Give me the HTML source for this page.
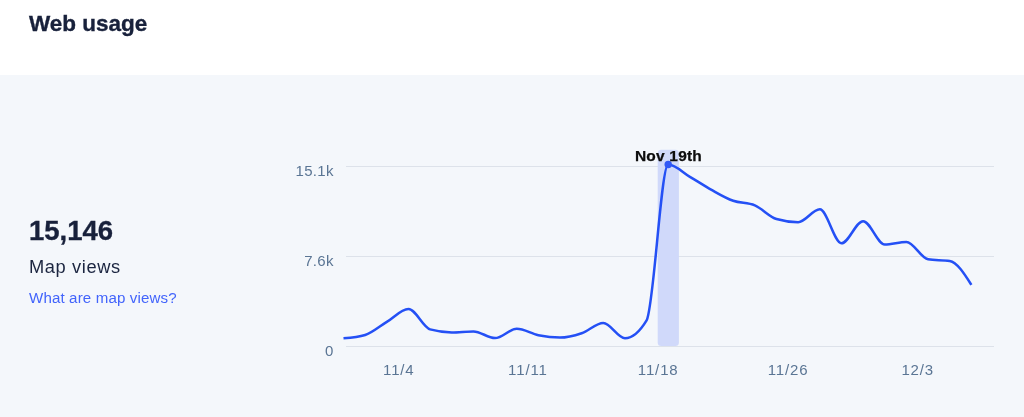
<!DOCTYPE html>
<html lang="en">
<head>
<meta charset="utf-8">
<title>Web usage</title>
<style>
  html, body { margin:0; padding:0; }
  body { width:1024px; height:417px; overflow:hidden; background:#f4f7fb; position:relative;
         font-family:"Liberation Sans", "DejaVu Sans", sans-serif; color:#1b2540; }
  .header { position:absolute; left:0; top:0; width:1024px; height:75px; background:#ffffff; }
  .title { position:absolute; left:28.7px; top:9.7px; font-size:22.5px; font-weight:bold; line-height:28px; white-space:nowrap; color:#1b2540; }
  .big { position:absolute; left:29px; top:214.5px; font-size:27.5px; font-weight:bold; line-height:32px; white-space:nowrap; color:#1b2540; }
  .label { position:absolute; left:29px; top:255px; letter-spacing:0.6px; font-size:18.3px; line-height:24px; white-space:nowrap; color:#1b2540; }
  .link { position:absolute; left:29px; top:287.8px; letter-spacing:0.14px; font-size:15.1px; line-height:20px; white-space:nowrap; color:#4264fb; text-decoration:none; }
  svg { position:absolute; left:0; top:0; will-change:transform; }
  .title, .big, .label, .link { will-change:transform; }
  .title, .big { -webkit-text-stroke:0.35px #18213b; color:#18213b; }
  svg text { font-family:"Liberation Sans", "DejaVu Sans", sans-serif; }
</style>
</head>
<body>
<div class="header"><div class="title">Web usage</div></div>
<div class="big">15,146</div>
<div class="label">Map views</div>
<a class="link">What are map views?</a>
<svg width="1024" height="417" viewBox="0 0 1024 417">
  <g stroke="#dde2ea" stroke-width="1" shape-rendering="crispEdges">
    <line x1="346" x2="994" y1="166.5" y2="166.5"/>
    <line x1="346" x2="994" y1="256.5" y2="256.5"/>
    <line x1="346" x2="994" y1="346.5" y2="346.5"/>
  </g>
  <rect x="657.7" y="149.7" width="21.2" height="196.3" rx="3.5" fill="#d0d9fa"/>
  <g font-size="15" fill="#5a7594" text-anchor="end" letter-spacing="0.3">
    <text x="333.7" y="176">15.1k</text>
    <text x="333.7" y="265.8">7.6k</text>
    <text x="333.7" y="355.8">0</text>
  </g>
  <g font-size="15" fill="#5a7594" text-anchor="middle" letter-spacing="0.85">
    <text x="398.8" y="374.7">11/4</text>
    <text x="527.9" y="374.7">11/11</text>
    <text x="658.2" y="374.7">11/18</text>
    <text x="788" y="374.7">11/26</text>
    <text x="917.7" y="374.7">12/3</text>
  </g>
  <path d="M343.50,338.30C350.72,337.75,357.93,337.20,365.15,335.00C372.37,332.80,379.58,326.23,386.80,321.90C394.02,317.57,401.23,309.00,408.45,309.00C415.67,309.00,422.88,327.40,430.10,329.40C437.32,331.40,444.53,332.40,451.75,332.40C458.97,332.40,466.18,331.40,473.40,331.40C480.62,331.40,487.83,338.10,495.05,338.10C502.27,338.10,509.48,328.80,516.70,328.80C523.92,328.80,531.13,333.73,538.35,335.20C545.57,336.67,552.78,337.60,560.00,337.60C567.22,337.60,574.43,335.63,581.65,333.20C588.87,330.77,596.08,323.00,603.30,323.00C610.52,323.00,617.73,338.20,624.95,338.20C632.17,338.20,639.38,332.23,646.60,320.30C653.82,308.37,661.03,164.50,668.25,164.50C675.47,164.50,682.68,172.57,689.90,176.80C697.12,181.03,704.33,185.90,711.55,189.90C718.77,193.90,725.98,198.22,733.20,200.80C740.42,203.38,747.63,202.37,754.85,205.40C762.07,208.43,769.28,216.87,776.50,219.00C783.72,221.13,790.93,222.20,798.15,222.20C805.37,222.20,812.58,209.30,819.80,209.30C827.02,209.30,834.23,243.30,841.45,243.30C848.67,243.30,855.88,221.20,863.10,221.20C870.32,221.20,877.53,244.50,884.75,244.50C891.97,244.50,899.18,242.00,906.40,242.00C913.62,242.00,920.83,258.17,928.05,259.30C935.27,260.43,942.48,259.87,949.70,261.00C956.92,262.13,964.13,273.47,971.35,284.80" fill="none" stroke="#2450f5" stroke-width="2.5" stroke-linecap="butt" stroke-linejoin="round"/>
  <circle cx="668.2" cy="164.5" r="3.7" fill="#3158f5"/>
  <text x="668.5" y="161.3" font-size="15.5" font-weight="bold" fill="#0d0d0d" stroke="#0d0d0d" stroke-width="0.25" text-anchor="middle" letter-spacing="0.2">Nov 19th</text>
</svg>
</body>
</html>
